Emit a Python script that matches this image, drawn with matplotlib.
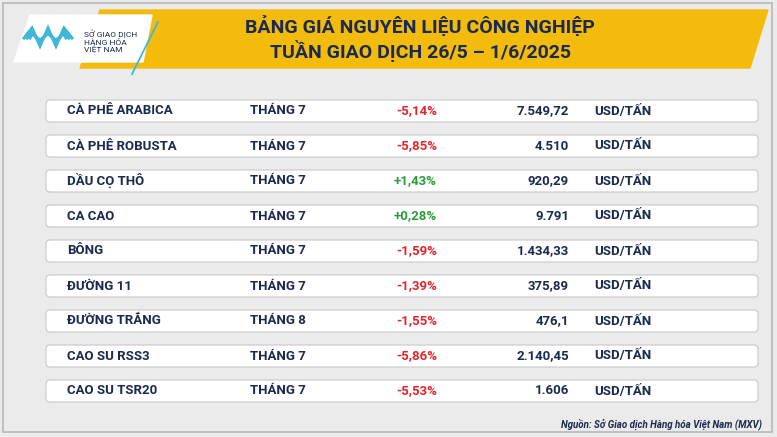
import matplotlib.pyplot as plt
from matplotlib.patches import Polygon, FancyBboxPatch, Rectangle

plt.rcParams['font.family'] = ['Roboto', 'DejaVu Sans']

names = ["CÀ PHÊ ARABICA", "CÀ PHÊ ROBUSTA", "DẦU CỌ THÔ", "CA CAO", "BÔNG",
         "ĐƯỜNG 11", "ĐƯỜNG TRẮNG", "CAO SU RSS3", "CAO SU TSR20"]
months = ["THÁNG 7", "THÁNG 7", "THÁNG 7", "THÁNG 7", "THÁNG 7",
          "THÁNG 7", "THÁNG 8", "THÁNG 7", "THÁNG 7"]
changes = [-5.14, -5.85, 1.43, 0.28, -1.59, -1.39, -1.55, -5.86, -5.53]
prices = ["7.549,72", "4.510", "920,29", "9.791", "1.434,33",
          "375,89", "476,1", "2.140,45", "1.606"]
unit = "USD/TẤN"

navy = "#1b2a4e"
W, H = 777, 437
fig = plt.figure(figsize=(W / 100, H / 100), dpi=100)
ax = fig.add_axes([0, 0, 1, 1])
ax.set_xlim(0, W)
ax.set_ylim(H, 0)
ax.axis('off')

ax.add_patch(Rectangle((0, 0), W, H, color="#ebebeb", zorder=0))
ax.add_patch(Rectangle((3, 3), W - 8, H - 8, fill=False, ec="#b8b8b8", lw=1.2, zorder=1))

# banner
ax.add_patch(Polygon([(100, 10), (768, 10), (750, 68), (80, 68)], color="#f3bb0b", zorder=2))
ax.add_patch(Polygon([(30, 15), (152, 15), (143, 62), (14, 62)], color="white", zorder=3))
ax.plot([158, 132], [22, 74], color="#3fb7d6", lw=1.3, zorder=3)
# logo mark: nested zigzags
for k in range(3):
    d = k * 3
    xs = [24 + d, 32, 40, 48, 56, 64, 72 - d]
    ys = [38, 28 + d, 46 - d, 28 + d, 46 - d, 28 + d, 38]
    ax.plot(xs, ys, color="#3fb7d6", lw=2.2, zorder=4, solid_joinstyle='miter')
ax.text(84, 30, "SỞ GIAO DỊCH\nHÀNG HÓA\nVIỆT NAM", fontsize=6, color=navy,
        va='top', ha='left', linespacing=1.05, zorder=4)
ax.text(420, 26, "BẢNG GIÁ NGUYÊN LIỆU CÔNG NGHIỆP", fontsize=14, weight='bold',
        color=navy, ha='center', va='center', zorder=4)
ax.text(420, 51, "TUẦN GIAO DỊCH 26/5 – 1/6/2025", fontsize=14, weight='bold',
        color=navy, ha='center', va='center', zorder=4)

for i, (n, m, c, p) in enumerate(zip(names, months, changes, prices)):
    y = 111 + i * 35
    ax.add_patch(FancyBboxPatch((46, y - 11), 712, 22, boxstyle="round,pad=0,rounding_size=4",
                                fc="white", ec="#c8c8c8", lw=0.8, zorder=2))
    kw = dict(fontsize=9.5, weight='bold', va='center', zorder=3)
    ax.text(67, y, n, color=navy, ha='left', **kw)
    ax.text(250, y, m, color=navy, ha='left', **kw)
    col = "#e3262b" if c < 0 else "#2a9d3a"
    ax.text(437, y, f"{c:+.2f}%".replace(".", ","), color=col, ha='right', **kw)
    ax.text(569, y, p, color=navy, ha='right', **kw)
    ax.text(594, y, unit, color=navy, ha='left', **kw)

ax.text(762, 424, "Nguồn: Sở Giao dịch Hàng hóa Việt Nam (MXV)", fontsize=7, style='italic',
        weight='bold', color=navy, ha='right', va='center')

fig.savefig("out.png", dpi=100)
